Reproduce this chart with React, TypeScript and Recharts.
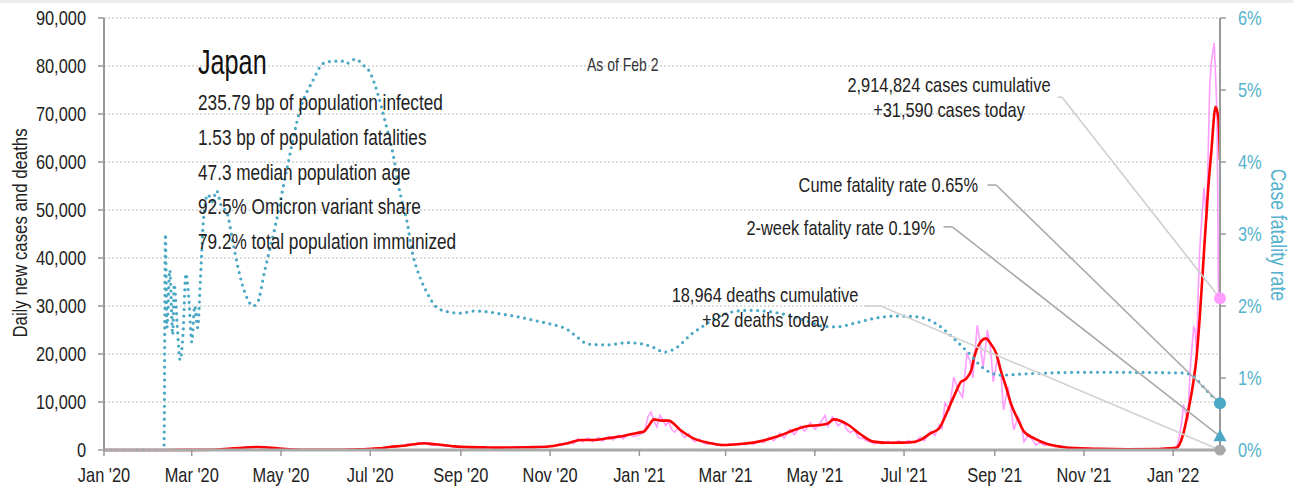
import {
  ComposedChart,
  CartesianGrid,
  Line,
  ReferenceDot,
  ReferenceLine,
  XAxis,
  YAxis,
} from 'recharts'

// day index = days since Jan 1 2020; last day (763) = Feb 2 2022
const tickDays = [0, 60, 121, 182, 244, 305, 366, 425, 486, 547, 609, 670, 731]
const tickLabels = [
  "Jan '20", "Mar '20", "May '20", "Jul '20", "Sep '20", "Nov '20", "Jan '21",
  "Mar '21", "May '21", "Jul '21", "Sep '21", "Nov '21", "Jan '22",
]
const leftTicks = [0, 10000, 20000, 30000, 40000, 50000, 60000, 70000, 80000, 90000]
const rightTicks = [0, 1, 2, 3, 4, 5, 6]

// daily new cases (pink)
const dailyDays = [
  0, 40, 55, 70, 80, 88, 95, 99, 102, 105, 108, 112, 116, 120, 126, 135, 150, 165, 175, 183,
  188, 193, 197, 201, 205, 208, 211, 215, 218, 221, 224, 228, 232, 236, 240, 250, 260, 270, 280, 288,
  294, 298, 302, 305, 308, 311, 314, 318, 321, 324, 327, 331, 334, 338, 341, 345, 348, 352, 355, 359,
  362, 366, 368, 370, 372, 374, 376, 378, 380, 382, 384, 386, 388, 390, 393, 395, 397, 400, 402, 404,
  407, 410, 413, 416, 419, 422, 425, 428, 431, 434, 437, 441, 444, 448, 451, 455, 458, 462, 465, 469,
  472, 476, 479, 483, 486, 490, 493, 495, 498, 500, 502, 505, 508, 510, 513, 516, 519, 521, 524, 527,
  530, 533, 536, 540, 543, 547, 550, 554, 558, 561, 565, 568, 571, 573, 575, 578, 581, 584, 587, 590,
  592, 594, 597, 599, 601, 604, 606, 608, 611, 613, 615, 618, 620, 622, 625, 627, 629, 632, 635, 637,
  640, 643, 646, 650, 654, 658, 665, 680, 700, 720, 731, 732, 733, 734, 735, 736, 737, 738, 739, 740,
  741, 742, 743, 744, 745, 746, 747, 748, 749, 750, 751, 752, 753, 754, 755, 756, 757, 758, 759, 760,
  761, 762, 763,
]
const dailyCases = [
  0, 0, 20, 40, 150, 350, 500, 650, 450, 700, 550, 500, 350, 300, 150, 50, 40, 60, 130, 200,
  350, 600, 700, 800, 1000, 1300, 1100, 1500, 1400, 1300, 1000, 1100, 800, 850, 600, 550, 550, 480, 550, 650,
  500, 700, 600, 900, 750, 1300, 1100, 1700, 1300, 2400, 1700, 2500, 1700, 2600, 1900, 2800, 2100, 3100, 2300, 3400,
  2800, 3200, 3500, 4500, 7000, 7900, 6000, 4800, 7200, 6300, 5100, 5900, 4300, 3700, 4600, 3300, 2600, 3400, 2200, 1700,
  2300, 1400, 1200, 1600, 1000, 1200, 1000, 1300, 1000, 1400, 1100, 1600, 1200, 2000, 1500, 2700, 1900, 3500, 2500, 4300,
  3200, 5000, 3900, 5700, 4300, 5800, 7200, 4900, 6900, 6000, 5000, 6000, 4200, 3600, 4200, 2500, 2400, 1900, 1700, 1300,
  1700, 1300, 1800, 1300, 1900, 1400, 2000, 1500, 2700, 1900, 3900, 3000, 5200, 4500, 9800, 8400, 15200, 12500, 11000, 20000,
  18700, 15000, 26000, 22500, 17000, 25000, 21500, 14200, 19400, 17000, 8300, 13200, 9000, 4200, 6900, 5500, 1700, 3100, 2100, 1000,
  1600, 900, 1300, 700, 900, 400, 400, 250, 160, 200, 450, 500, 700, 1200, 2500, 4400, 6200, 9500, 8500, 7000,
  6500, 13000, 18500, 22000, 25600, 25000, 20000, 32000, 41000, 46000, 50000, 54600, 51000, 48000, 63000, 76000, 80500, 82700, 84800, 78000,
  70000, 31700, 31590,
]

// 7-day average of new cases (red)
const avgDays = [
  0, 30, 45, 60, 75, 85, 95, 104, 112, 120, 130, 140, 150, 160, 170, 180, 188, 195, 205, 212,
  219, 226, 233, 240, 250, 260, 270, 280, 290, 298, 307, 317, 326, 335, 344, 355, 365, 369, 372, 376,
  381, 386, 394, 403, 413, 424, 435, 444, 454, 463, 472, 481, 490, 495, 499, 509, 517, 526, 536, 545,
  552, 559, 565, 571, 574, 578, 582, 586, 589, 593, 595, 598, 603, 606, 610, 613, 617, 620, 625, 629,
  636, 645, 654, 665, 680, 700, 720, 731, 733, 735, 738, 741, 745, 747, 749, 752, 755, 757, 760, 762,
  763,
]
const avgCases = [
  0, 0, 10, 25, 60, 250, 480, 620, 520, 320, 110, 45, 40, 50, 110, 180, 330, 620, 900, 1200,
  1400, 1200, 1000, 760, 600, 540, 500, 520, 580, 620, 850, 1400, 2080, 2080, 2430, 2920, 3610, 3820, 4860, 6390,
  6110, 6110, 4170, 2430, 1530, 1040, 1250, 1530, 2220, 3120, 4170, 5000, 5210, 5560, 6390, 5210, 3330, 1740, 1500, 1530,
  1600, 2220, 3470, 4510, 6250, 9030, 11800, 14230, 14720, 16670, 19440, 21870, 23260, 22220, 20140, 16670, 12850, 9720, 6250, 3820,
  2430, 1250, 690, 400, 250, 170, 180, 400, 450, 1000, 3500, 7700, 14600, 19400, 27000, 41000, 54800, 61900, 71500, 68750,
  60400,
]

// daily deaths (grey, hugs the zero line)
const deathDays = [0, 90, 110, 130, 200, 240, 330, 380, 400, 420, 480, 500, 520, 560, 600, 620, 640, 700, 740, 763]
const deathsDaily = [0, 10, 25, 10, 5, 12, 30, 70, 80, 40, 90, 100, 60, 15, 50, 55, 20, 3, 15, 82]

// case fatality rate, % (teal dotted, right axis)
const cfrDays = [
  0, 20, 41, 42, 43, 45, 47, 48, 50, 52, 54, 56, 58, 60, 62, 64, 66, 68, 71, 74,
  77, 80, 84, 88, 92, 97, 102, 105, 110, 117, 125, 134, 143, 150, 157, 164, 166, 172, 177, 182,
  187, 192, 198, 202, 207, 211, 216, 221, 227, 235, 244, 253, 262, 271, 283, 294, 305, 317, 324, 331,
  344, 358, 369, 376, 383, 392, 401, 408, 418, 430, 441, 456, 470, 485, 491, 501, 513, 527, 541, 556,
  570, 582, 591, 601, 613, 632, 680, 738, 745, 751, 757, 763,
]
const cfrPct = [
  0, 0, 0, 3.0, 1.7, 2.5, 1.6, 2.3, 1.75, 1.25, 1.6, 2.45, 2.1, 1.5, 2.0, 1.7, 2.4, 3.2, 3.55, 3.45,
  3.6, 3.4, 3.3, 2.9, 2.5, 2.15, 2.0, 2.05, 2.5, 3.1, 3.9, 4.72, 5.14, 5.37, 5.4, 5.4, 5.37, 5.43, 5.35, 5.24,
  4.96, 4.58, 4.07, 3.61, 3.19, 2.73, 2.4, 2.18, 1.99, 1.92, 1.9, 1.93, 1.92, 1.89, 1.85, 1.8, 1.75, 1.67, 1.56, 1.47,
  1.46, 1.49, 1.47, 1.42, 1.36, 1.43, 1.6, 1.7, 1.83, 1.92, 1.94, 1.92, 1.86, 1.76, 1.72, 1.71, 1.76, 1.83, 1.86, 1.85,
  1.74, 1.53, 1.35, 1.14, 1.04, 1.06, 1.08, 1.07, 1.02, 0.89, 0.76, 0.65,
]

const statLines = [
  '235.79 bp of population infected',
  '1.53 bp of population fatalities',
  '47.3 median population age',
  '92.5% Omicron variant share',
  '79.2% total population immunized',
]

const LAST_DAY = 763
const CASES_TODAY = 31590
const CUME_CFR = 0.65
const TWO_WEEK_CFR = 0.19

// no narrow font installed: squeeze Liberation Sans horizontally instead
const FONT = "'Liberation Sans', Arial, sans-serif"
const TEAL = '#4aa8c4'
const TEAL_TEXT = '#55b2cc'
const PINK = '#ff9cff'

const toRows = (days: number[], vals: number[]) => days.map((d, i) => ({ d, v: vals[i] }))

type NarrowProps = {
  x: number
  y: number
  size: number
  squeeze?: number
  anchor?: 'start' | 'middle' | 'end'
  fill?: string
  rotate?: number
  dy?: string
  children: React.ReactNode
}

const Narrow = ({ x, y, size, squeeze = 0.82, anchor = 'start', fill = '#222', rotate = 0, dy, children }: NarrowProps) => (
  <g transform={`translate(${x},${y}) rotate(${rotate})`}>
    <text transform={`scale(${squeeze},1)`} fontSize={size} fill={fill} textAnchor={anchor} dy={dy}>
      {children}
    </text>
  </g>
)

const makeTick = (fmt: (v: number) => string, fill: string, dy: string) => (props: any) => {
  const { x, y, payload, textAnchor } = props
  return (
    <Narrow x={x} y={y} size={20} anchor={textAnchor} fill={fill} dy={dy}>
      {fmt(payload.value)}
    </Narrow>
  )
}

const Triangle = (props: any) => {
  const { cx, cy } = props
  return <path d={`M${cx},${cy - 7} L${cx + 6.5},${cy + 5} L${cx - 6.5},${cy + 5} Z`} fill={TEAL} />
}

const App = () => {
  return (
    <div style={{ position: 'absolute', left: 0, top: 0, width: 1293, height: 491, fontFamily: FONT, background: '#fff' }}>
      <div style={{ position: 'absolute', left: 0, top: 0, width: 1293, height: 3, background: '#ececec' }} />
      <ComposedChart width={1293} height={491} margin={{ top: 18, right: 0, bottom: 0, left: 0 }}>
        <CartesianGrid yAxisId="left" vertical={false} stroke="#bdbdbd" strokeDasharray="2 2" />
        <XAxis
          dataKey="d"
          type="number"
          domain={[0, LAST_DAY]}
          ticks={tickDays}
          height={41}
          tick={makeTick((v) => tickLabels[tickDays.indexOf(v)] ?? '', '#222', '0.71em')}
          tickSize={6}
          tickMargin={12}
          axisLine={{ stroke: '#aaa', strokeWidth: 3 }}
          tickLine={{ stroke: '#999', strokeWidth: 1.5 }}
          allowDataOverflow
        />
        <YAxis
          yAxisId="left"
          domain={[0, 90000]}
          ticks={leftTicks}
          width={104}
          tick={makeTick((v) => Number(v).toLocaleString('en-US'), '#222', '0.355em')}
          tickSize={6}
          tickMargin={12}
          axisLine={{ stroke: '#999', strokeWidth: 2 }}
          tickLine={{ stroke: '#999', strokeWidth: 1.5 }}
        />
        <YAxis
          yAxisId="right"
          orientation="right"
          domain={[0, 6]}
          ticks={rightTicks}
          width={73}
          tick={makeTick((v) => `${v}%`, TEAL_TEXT, '0.355em')}
          tickSize={6}
          tickMargin={12}
          axisLine={{ stroke: '#999', strokeWidth: 2 }}
          tickLine={{ stroke: '#999', strokeWidth: 1.5 }}
        />

        <Line data={toRows(deathDays, deathsDaily)} dataKey="v" yAxisId="left" type="monotone"
          stroke="#c4c4c4" strokeWidth={1.5} dot={false} isAnimationActive={false} />
        <Line data={toRows(dailyDays, dailyCases)} dataKey="v" yAxisId="left" type="linear"
          stroke={PINK} strokeWidth={1.6} dot={false} isAnimationActive={false} />
        <Line data={toRows(avgDays, avgCases)} dataKey="v" yAxisId="left" type="monotone"
          stroke="#ff0000" strokeWidth={2.6} dot={false} isAnimationActive={false} />
        <Line data={toRows(cfrDays, cfrPct)} dataKey="v" yAxisId="right" type="monotone"
          stroke={TEAL} strokeWidth={3.2} strokeDasharray="0 6.5" strokeLinecap="round"
          dot={false} isAnimationActive={false} />

        {/* leader lines from the annotations to the end markers */}
        <ReferenceLine yAxisId="left" ifOverflow="visible" stroke="#cfcfcf" strokeWidth={1.6}
          segment={[{ x: 652, y: 73500 }, { x: 655, y: 73500 }]} />
        <ReferenceLine yAxisId="left" ifOverflow="visible" stroke="#cfcfcf" strokeWidth={1.6}
          segment={[{ x: 655, y: 73500 }, { x: LAST_DAY, y: CASES_TODAY }]} />
        <ReferenceLine yAxisId="right" ifOverflow="visible" stroke="#aaa" strokeWidth={1.6}
          segment={[{ x: 604, y: 3.68 }, { x: 610, y: 3.68 }]} />
        <ReferenceLine yAxisId="right" ifOverflow="visible" stroke="#aaa" strokeWidth={1.6}
          segment={[{ x: 610, y: 3.68 }, { x: LAST_DAY, y: CUME_CFR }]} />
        <ReferenceLine yAxisId="right" ifOverflow="visible" stroke="#aaa" strokeWidth={1.6}
          segment={[{ x: 574, y: 3.1 }, { x: 580, y: 3.1 }]} />
        <ReferenceLine yAxisId="right" ifOverflow="visible" stroke="#aaa" strokeWidth={1.6}
          segment={[{ x: 580, y: 3.1 }, { x: LAST_DAY, y: TWO_WEEK_CFR }]} />
        <ReferenceLine yAxisId="left" ifOverflow="visible" stroke="#d2d2d2" strokeWidth={1.6}
          segment={[{ x: 521, y: 30000 }, { x: 531, y: 30000 }]} />
        <ReferenceLine yAxisId="left" ifOverflow="visible" stroke="#d2d2d2" strokeWidth={1.6}
          segment={[{ x: 531, y: 30000 }, { x: LAST_DAY, y: 0 }]} />

        <ReferenceDot yAxisId="left" x={LAST_DAY} y={CASES_TODAY} r={6} fill={PINK} stroke="none" ifOverflow="visible" />
        <ReferenceDot yAxisId="right" x={LAST_DAY} y={CUME_CFR} r={6} fill={TEAL} stroke="none" ifOverflow="visible" />
        <ReferenceDot yAxisId="right" x={LAST_DAY} y={TWO_WEEK_CFR} r={6} ifOverflow="visible" shape={Triangle} />
        <ReferenceDot yAxisId="left" x={LAST_DAY} y={0} r={5.5} fill="#a8a8a8" stroke="none" ifOverflow="visible" />
      </ComposedChart>

      <svg width={1293} height={491} style={{ position: 'absolute', left: 0, top: 0, pointerEvents: 'none', fontFamily: FONT }}>
        <Narrow x={198} y={74} size={36} squeeze={0.7} fill="#111">Japan</Narrow>
        {statLines.map((s, i) => (
          <Narrow key={s} x={198} y={110 + i * 34.8} size={22.5} squeeze={0.765}>{s}</Narrow>
        ))}
        <Narrow x={587} y={71} size={17.5} squeeze={0.8} fill="#333">As of Feb 2</Narrow>
        <Narrow x={949} y={92} size={20.5} squeeze={0.8} anchor="middle">2,914,824 cases cumulative</Narrow>
        <Narrow x={949} y={117} size={20.5} squeeze={0.8} anchor="middle">+31,590 cases today</Narrow>
        <Narrow x={978} y={192} size={20.5} squeeze={0.8} anchor="end">Cume fatality rate 0.65%</Narrow>
        <Narrow x={935} y={235} size={20.5} squeeze={0.8} anchor="end">2-week fatality rate 0.19%</Narrow>
        <Narrow x={765} y={302} size={20.5} squeeze={0.8} anchor="middle">18,964 deaths cumulative</Narrow>
        <Narrow x={765} y={327} size={20.5} squeeze={0.8} anchor="middle">+82 deaths today</Narrow>
        <Narrow x={27} y={233} size={20.5} anchor="middle" rotate={-90}>Daily new cases and deaths</Narrow>
        <Narrow x={1271} y={235} size={21.5} anchor="middle" rotate={90} fill={TEAL_TEXT}>Case fatality rate</Narrow>
      </svg>
    </div>
  )
}

export default App
